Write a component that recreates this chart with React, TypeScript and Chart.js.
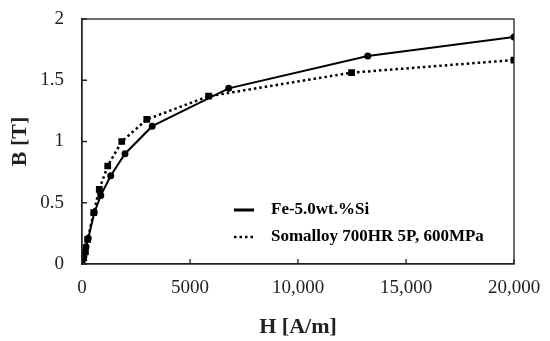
import React, { useEffect, useRef } from "react";
import { Chart, registerables } from "chart.js";

Chart.register(...registerables);

const feH = [0, 90, 185, 290, 570, 870, 1330, 1990, 3250, 6790, 13230, 20000];
const feB = [0, 0.07, 0.14, 0.21, 0.42, 0.56, 0.72, 0.9, 1.125, 1.434, 1.698, 1.853];
const smH = [0, 80, 160, 260, 540, 800, 1190, 1840, 3000, 5860, 12480, 20000];
const smB = [0, 0.05, 0.1, 0.2, 0.42, 0.61, 0.8, 1.0, 1.18, 1.37, 1.562, 1.665];
const seriesNames = ["Fe-5.0wt.%Si", "Somalloy 700HR 5P, 600MPa"];
const xTitle = "H [A/m]";
const yTitle = "B [T]";

const SERIF = "'Liberation Serif', 'DejaVu Serif', serif";

const framePlugin = {
  id: "frame",
  afterDraw(chart: any) {
    const { ctx, chartArea: a, scales } = chart;
    ctx.save();
    ctx.strokeStyle = "#222";
    ctx.lineWidth = 1.3;
    ctx.strokeRect(a.left, a.top, a.right - a.left, a.bottom - a.top);
    // inward ticks
    ctx.beginPath();
    scales.x.ticks.forEach((t: any) => {
      const px = scales.x.getPixelForValue(t.value);
      ctx.moveTo(px, a.bottom);
      ctx.lineTo(px, a.bottom - 5);
    });
    scales.y.ticks.forEach((t: any) => {
      const py = scales.y.getPixelForValue(t.value);
      ctx.moveTo(a.left, py);
      ctx.lineTo(a.left + 5, py);
    });
    ctx.stroke();
    // legend
    const lx = 234, lx2 = 254, tx = 271;
    const ys = [210, 237];
    ctx.strokeStyle = "#000";
    ctx.lineWidth = 3;
    ctx.beginPath();
    ctx.moveTo(lx, ys[0]);
    ctx.lineTo(lx2, ys[0]);
    ctx.stroke();
    ctx.setLineDash([2.5, 3]);
    ctx.lineWidth = 2.5;
    ctx.beginPath();
    ctx.moveTo(lx, ys[1]);
    ctx.lineTo(lx2, ys[1]);
    ctx.stroke();
    ctx.setLineDash([]);
    ctx.fillStyle = "#000";
    ctx.font = "bold 17px " + SERIF;
    ctx.textBaseline = "middle";
    ctx.textAlign = "left";
    ctx.fillText(seriesNames[0], tx, ys[0]);
    ctx.fillText(seriesNames[1], tx, ys[1]);
    ctx.restore();
  },
};

const zeroPad = (s: any) => {
  s.paddingTop = 0;
  s.paddingBottom = 0;
  s.paddingLeft = 0;
  s.paddingRight = 0;
};

export default function App() {
  const ref = useRef<HTMLCanvasElement>(null);
  useEffect(() => {
    const chart = new Chart(ref.current!, {
      type: "scatter",
      data: {
        datasets: [
          {
            label: seriesNames[0],
            data: feH.map((h, i) => ({ x: h, y: feB[i] })),
            showLine: true,
            borderColor: "#000",
            backgroundColor: "#000",
            borderWidth: 2,
            pointStyle: "circle",
            pointRadius: 2.5,
          },
          {
            label: seriesNames[1],
            data: smH.map((h, i) => ({ x: h, y: smB[i] })),
            showLine: true,
            borderColor: "#000",
            backgroundColor: "#000",
            borderWidth: 2.5,
            borderDash: [2.5, 3],
            pointStyle: "rect",
            pointRadius: 3,
          },
        ],
      },
      options: {
        responsive: false,
        animation: false,
        layout: { padding: { left: 0, right: 36, top: 19, bottom: 0 } },
        plugins: { legend: { display: false }, tooltip: { enabled: false } },
        scales: {
          x: {
            type: "linear",
            min: 0,
            max: 20000,
            ticks: {
              stepSize: 5000,
              padding: 13,
              color: "#222",
              font: { family: SERIF, size: 19 },
              maxRotation: 0,
              callback: (v: any) => (v === 5000 || v === 0 ? String(v) : Number(v).toLocaleString("en-US")),
            },
            grid: { display: false, drawTicks: false },
            border: { display: true, color: "#222", width: 1.3 },
            title: {
              display: true,
              text: xTitle,
              color: "#222",
              font: { family: SERIF, size: 22, weight: "bold" },
              padding: { top: 7, bottom: 0 },
            },
            afterFit: (s: any) => {
              s.height = 77;
              zeroPad(s);
            },
          },
          y: {
            type: "linear",
            min: 0,
            max: 2,
            ticks: {
              stepSize: 0.5,
              padding: 18,
              color: "#222",
              font: { family: SERIF, size: 19 },
              callback: (v: any) => String(v),
            },
            grid: { display: false, drawTicks: false },
            border: { display: true, color: "#222", width: 1.3 },
            title: {
              display: true,
              text: yTitle,
              color: "#222",
              font: { family: SERIF, size: 22, weight: "bold" },
              padding: { top: 7, bottom: 2 },
            },
            afterFit: (s: any) => {
              s.width = 82;
              zeroPad(s);
            },
          },
        },
      },
      plugins: [framePlugin],
    } as any);
    return () => chart.destroy();
  }, []);
  return (
    <div style={{ position: "fixed", left: 0, top: 0, width: 550, height: 341, background: "#fff" }}>
      <canvas ref={ref} width={550} height={341} />
    </div>
  );
}
